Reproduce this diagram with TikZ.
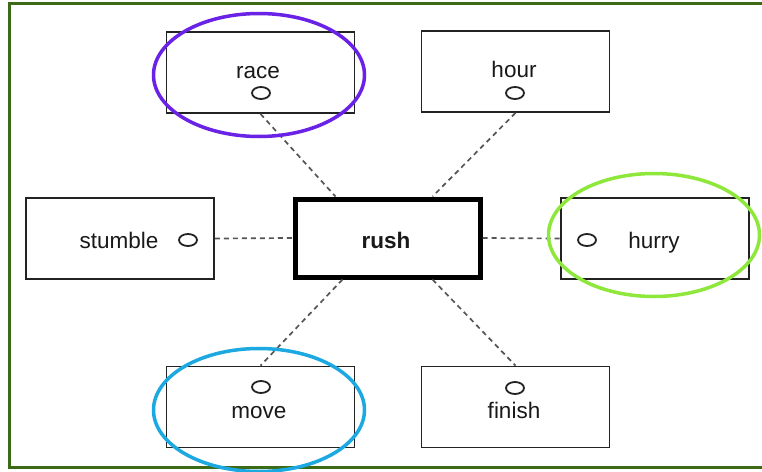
\documentclass[tikz,border=0pt]{standalone}
\usepackage{fontspec}
\setmainfont{Liberation Sans}
\usetikzlibrary{shapes.geometric,calc}

\definecolor{framegreen}{HTML}{3B6B16}
\definecolor{ringpurple}{HTML}{6A22E6}
\definecolor{ringgreen}{HTML}{8EE83C}
\definecolor{ringcyan}{HTML}{1CA8E0}
\definecolor{boxline}{HTML}{222222}
\definecolor{dashgray}{HTML}{555555}

\tikzset{
  wordbox/.style={draw=boxline, line width=1.8pt, fill=white,
    minimum width=188pt, minimum height=81pt, inner sep=0pt},
  centerbox/.style={draw=black, line width=5pt, fill=white,
    minimum width=185pt, minimum height=78pt, inner sep=0pt},
  word/.style={anchor=base, inner sep=0pt, text=black!90,
    font=\fontsize{22.5}{27}\selectfont},
  port/.style={ellipse, draw=boxline, line width=1.8pt,
    minimum width=18pt, minimum height=12pt, inner sep=0pt},
  link/.style={draw=dashgray, line width=1.7pt,
    dash pattern=on 5pt off 4pt},
  ring/.style={ellipse, line width=3.5pt, minimum width=211pt,
    minimum height=123pt, inner sep=0pt},
}

\begin{document}
\begin{tikzpicture}[x=1pt, y=-1pt]
  \useasboundingbox (0,0) rectangle (762,471);
  \fill[white] (0,0) rectangle (762,471);

  % outer frame
  \draw[framegreen, line width=3.5pt] (9.5,3.5) rectangle (790,467.5);

  % word boxes
  \node[wordbox]   (race)    at (260.5,72.5) {};
  \node[wordbox]   (hour)    at (515.5,71.5) {};
  \node[wordbox]   (stumble) at (120,238.5) {};
  \node[centerbox] (rush)    at (387.5,238) {};
  \node[wordbox]   (hurry)   at (655,238.5) {};
  \node[wordbox]   (move)    at (260.5,407) {};
  \node[wordbox]   (finish)  at (515.5,407) {};

  % labels
  \node[word] (raceT)    at (258,78)  {race};
  \node[word] (hourT)    at (514,77)  {hour};
  \node[word] (stumbleT) at (119,248) {stumble};
  \node[word] (rushT)    at (386,248) {\bfseries rush};
  \node[word] (hurryT)   at (654,248) {hurry};
  \node[word] (moveT)    at (259,418) {move};
  \node[word] (finishT)  at (514,418) {finish};

  % connection ports
  \node[port] (raceP)    at (261,93)  {};
  \node[port] (hourP)    at (515,93)  {};
  \node[port] (stumbleP) at (188,240) {};
  \node[port] (hurryP)   at (587,240) {};
  \node[port] (moveP)    at (261,387) {};
  \node[port] (finishP)  at (515,388) {};

  % dashed links to the central word
  \draw[link] (race.south)   -- ([xshift=43pt]rush.north west);
  \draw[link] (hour.south)   -- ([xshift=-50pt]rush.north east);
  \draw[link] (stumble.east) -- (rush.west);
  \draw[link] (rush.east)    -- (hurry.west);
  \draw[link] ([xshift=50pt]rush.south west)  -- (move.north);
  \draw[link] ([xshift=-50pt]rush.south east) -- (finish.north);

  % highlight rings
  \node[ring, draw=ringpurple] (ringRace)  at (259,75)  {};
  \node[ring, draw=ringgreen]  (ringHurry) at (654,235) {};
  \node[ring, draw=ringcyan]   (ringMove)  at (259,410) {};
\end{tikzpicture}
\end{document}
